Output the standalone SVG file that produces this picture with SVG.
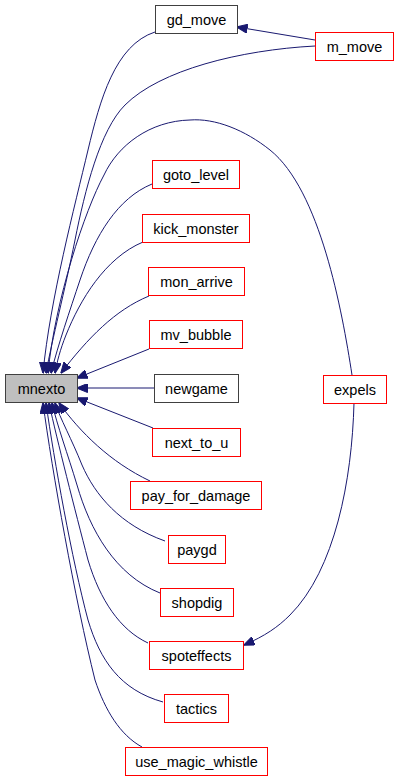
<svg xmlns="http://www.w3.org/2000/svg" width="400" height="781" viewBox="0 0 400 781">
<style>
.n rect{fill:#fff;stroke:#ff0000;stroke-width:1}
.n.b rect{stroke:#404040}
.n.cur rect{fill:#bfbfbf;stroke:#404040}
.n text{font-family:"Liberation Sans",Arial,sans-serif;font-size:14.5px;fill:#000;text-anchor:middle}
.e path{fill:none;stroke:#191970;stroke-width:1;marker-end:url(#ah)}
</style>
<defs>
<marker id="ah" markerUnits="userSpaceOnUse" viewBox="0 0 11 9" markerWidth="11" markerHeight="9" refX="10.5" refY="4.5" orient="auto">
<path d="M0,0 L11,4.5 L0,9 z" fill="#191970" stroke="#191970" stroke-width="1"/>
</marker>
</defs>
<rect width="400" height="781" fill="#fff"/>
<g id="edges" class="e">
<path d="M155,32 C115,45 100,100 88,150 C75,205 50,300 43,373"/>
<path d="M315,46 C240,50 160,70 125,105 C100,130 85,190 75,240 C65,290 52,340 46,373"/>
<path d="M352,375 C342,310 320,190 270,150 C245,130 215,118 190,120 C150,121 118,145 104,175 C85,210 55,300 48,373"/>
<path d="M152,184 C118,198 95,235 80,280 C70,310 58,345 51,373"/>
<path d="M143,242 C105,258 80,300 66,335 C60,350 57,362 55,373"/>
<path d="M149,296 C115,310 88,338 61,373"/>
<path d="M149,349 L77,378"/>
<path d="M154,388 L77,388"/>
<path d="M153,428 L77,398"/>
<path d="M150,481 C110,462 80,432 59,403"/>
<path d="M165,541 C120,525 95,495 82,465 C72,440 60,418 55,403"/>
<path d="M160,593 C115,575 90,530 77,485 C68,455 57,425 52,403"/>
<path d="M148,643 C120,630 100,600 88,560 C75,510 57,440 49,403"/>
<path d="M163,702 C120,690 100,660 88,620 C72,560 54,460 46,403"/>
<path d="M142,747 C120,735 105,710 95,680 C75,600 52,470 43,403"/>
<path d="M315,40 L237,27"/>
<path d="M354,403 C352,480 335,570 290,615 C278,627 265,636 244,645"/>
</g>
<g id="mnexto" class="n cur"><rect x="5.5" y="374.5" width="72" height="28"/><text x="41.5" y="393.5">mnexto</text></g>
<g id="gd_move" class="n b"><rect x="155.5" y="5.5" width="82" height="28"/><text x="196.5" y="24.5">gd_move</text></g>
<g id="m_move" class="n"><rect x="315.5" y="32.5" width="78" height="28"/><text x="354.5" y="51.5">m_move</text></g>
<g id="goto_level" class="n"><rect x="152.5" y="160.5" width="87" height="28"/><text x="196" y="179.5">goto_level</text></g>
<g id="kick_monster" class="n"><rect x="142.5" y="214.5" width="107" height="28"/><text x="196" y="233.5">kick_monster</text></g>
<g id="mon_arrive" class="n"><rect x="148.5" y="267.5" width="96" height="28"/><text x="196.5" y="286.5">mon_arrive</text></g>
<g id="mv_bubble" class="n"><rect x="149.5" y="320.5" width="93" height="28"/><text x="196" y="339.5">mv_bubble</text></g>
<g id="newgame" class="n b"><rect x="154.5" y="374.5" width="84" height="28"/><text x="196.5" y="393.5">newgame</text></g>
<g id="next_to_u" class="n"><rect x="152.5" y="428.5" width="88" height="28"/><text x="196.5" y="447.5">next_to_u</text></g>
<g id="pay_for_damage" class="n"><rect x="130.5" y="481.5" width="131" height="28"/><text x="196" y="500.5">pay_for_damage</text></g>
<g id="paygd" class="n"><rect x="168.5" y="535.5" width="57" height="28"/><text x="197" y="554.5">paygd</text></g>
<g id="shopdig" class="n"><rect x="160.5" y="588.5" width="73" height="28"/><text x="197" y="607.5">shopdig</text></g>
<g id="spoteffects" class="n"><rect x="149.5" y="641.5" width="94" height="28"/><text x="196.5" y="660.5">spoteffects</text></g>
<g id="tactics" class="n"><rect x="164.5" y="694.5" width="64" height="28"/><text x="196.5" y="713.5">tactics</text></g>
<g id="use_magic_whistle" class="n"><rect x="125.5" y="747.5" width="142" height="28"/><text x="196.5" y="766.5">use_magic_whistle</text></g>
<g id="expels" class="n"><rect x="323.5" y="375.5" width="63" height="28"/><text x="355" y="394.5">expels</text></g>
</svg>
